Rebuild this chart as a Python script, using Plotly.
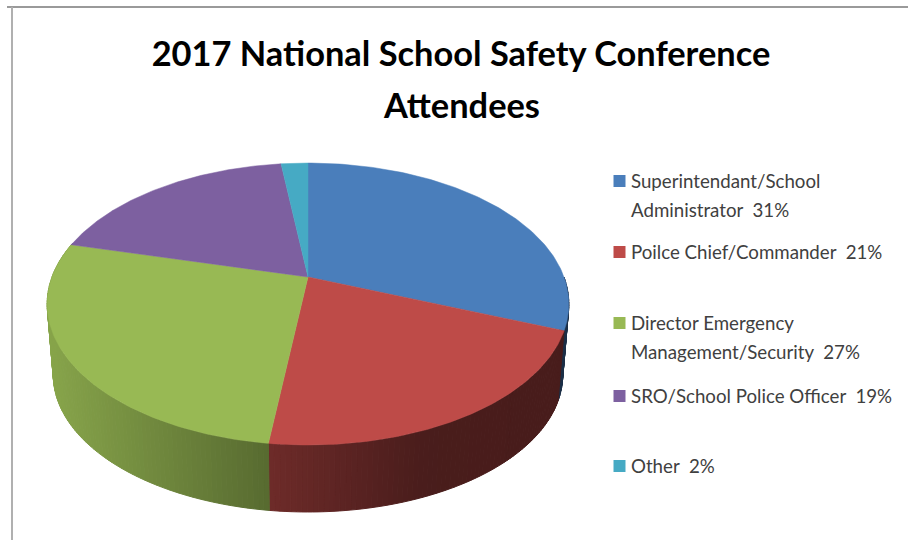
import numpy as np
import plotly.graph_objects as go

categories = ["Superintendant/School<br>Administrator", "Poilce Chief/Commander",
              "Director Emergency<br>Management/Security", "SRO/School Police Officer", "Other"]
values = [31, 21, 27, 19, 2]
colors = ["#4a7ebb", "#be4b48", "#98b954", "#7d60a0", "#46aac4"]
legend_y = [181, 252, 323, 396, 466]
title_lines = ["2017 National School Safety Conference", "Attendees"]

CX, CY = 308, 277
K = 0.1916

def project(theta, a, b, y0):
    u, v = np.sin(theta), -np.cos(theta)
    s = 1 / (1 - K * v)
    return CX + a * u * s, y0 + b * v * s

def top(theta):
    return project(theta, 256, 135.8, CY)

def bottom(theta):
    return project(theta, 250, 132, 348.7)

def shade(hex_color, x):
    f = np.interp(x, [45, 268, 420, 570], [0.90, 0.58, 0.39, 0.38])
    rgb = [int(hex_color[i:i + 2], 16) for i in (1, 3, 5)]
    return "rgb(%d,%d,%d)" % tuple(int(c * f) for c in rgb)

fig = go.Figure()
edges = np.radians(np.concatenate([[0], np.cumsum(values)]) * 3.6)

# side wall, drawn first so the top face covers it
for i in range(len(values)):
    lo, hi = max(edges[i], np.radians(90)), min(edges[i + 1], np.radians(285))
    if hi <= lo:
        continue
    n = max(int(np.degrees(hi - lo)), 1)
    steps = np.linspace(lo, hi, n + 1)
    for a0, a1 in zip(steps[:-1], steps[1:]):
        arc = np.array([a0, a1])
        tx, ty = top(arc)
        bx, by = bottom(arc[::-1])
        col = shade(colors[i], (tx.mean() + bx.mean()) / 2)
        fig.add_trace(go.Scatter(x=np.r_[tx, bx, tx[0]], y=np.r_[ty, by, ty[0]], mode="lines",
                                 fill="toself", fillcolor=col, line=dict(color=col, width=1),
                                 hoverinfo="skip", showlegend=False))

# top face
for i, name in enumerate(categories):
    arc = np.linspace(edges[i], edges[i + 1], 120)
    tx, ty = top(arc)
    fig.add_trace(go.Scatter(x=np.r_[CX, tx, CX], y=np.r_[CY, ty, CY], mode="lines",
                             fill="toself", fillcolor=colors[i], line=dict(color=colors[i], width=0.5),
                             name=name.replace("<br>", " "), showlegend=False))

# legend keys
fig.add_trace(go.Scatter(
    x=[619.5] * 5, y=legend_y, mode="markers",
    marker=dict(symbol="square", size=12, color=colors), hoverinfo="skip", showlegend=False))

annotations = []
for name, val, y in zip(categories, values, legend_y):
    for j, line in enumerate(f"{name}  {val}%".split("<br>")):
        annotations.append(dict(x=629, y=y + 28.5 * j, xref="x", yref="y", xanchor="left",
                                yanchor="middle", align="left", showarrow=False, text=line,
                                font=dict(family="Lato", size=18.7, color="#404040")))

annotations.append(dict(x=461, y=104, xref="x", yref="y", xanchor="center", yanchor="middle",
                        showarrow=False, text=title_lines[1],
                        font=dict(family="Lato", size=34.4, color="#000000", weight="bold")))

fig.update_layout(
    width=908, height=540, margin=dict(l=0, r=0, t=0, b=0),
    paper_bgcolor="white", plot_bgcolor="white",
    xaxis=dict(range=[0, 908], visible=False, fixedrange=True),
    yaxis=dict(range=[540, 0], visible=False, fixedrange=True),
    title=dict(text=title_lines[0], x=461 / 908, xanchor="center",
               y=1 - 54 / 540, yanchor="middle",
               font=dict(family="Lato", size=34.4, color="#000000", weight="bold")),
    annotations=annotations,
    shapes=[
        dict(type="line", x0=7, x1=908, y0=7, y1=7, line=dict(color="#9a9a9a", width=2)),
        dict(type="line", x0=12, x1=12, y0=7, y1=540, line=dict(color="#b0b0b0", width=2)),
    ],
)
fig.write_html("out.html", config={"displayModeBar": False},
               post_script="document.body.style.margin='0';")
